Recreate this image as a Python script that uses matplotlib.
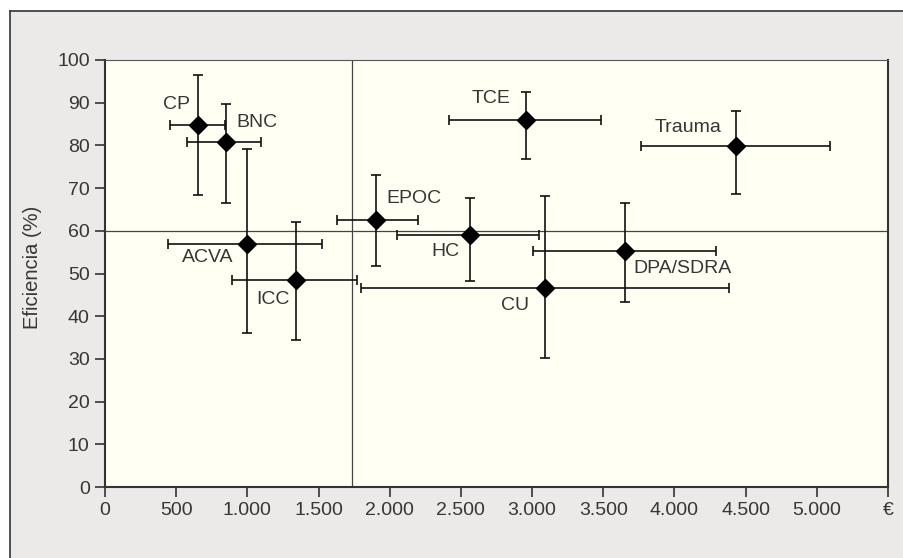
import matplotlib.pyplot as plt
from matplotlib.patches import Rectangle
from matplotlib.lines import Line2D

DPI = 100

# datos: coste (euros) y eficiencia (%) por patologia
grupos = ['CP', 'BNC', 'ACVA', 'EPOC', 'ICC', 'HC', 'TCE', 'Trauma', 'DPA/SDRA', 'CU']
coste = [651, 850, 998, 1906, 1344, 2562, 2960, 4435, 3653, 3091]
coste_min = [459, 574, 443, 1630, 894, 2051, 2419, 3763, 3005, 1801]
coste_max = [845, 1098, 1525, 2197, 1770, 3051, 3487, 5096, 4293, 4384]
efic = [84.8, 80.8, 56.8, 62.5, 48.5, 59.0, 85.9, 79.9, 55.3, 46.7]
efic_min = [68.4, 66.5, 36.1, 51.8, 34.4, 48.2, 76.8, 68.6, 43.3, 30.2]
efic_max = [96.6, 89.8, 79.2, 73.1, 62.1, 67.7, 92.4, 88.1, 66.4, 68.2]

# posicion de las etiquetas (en unidades de datos)
etiq_x = [499, 1066, 719, 2171, 1183, 2393, 2712, 4098, 4059, 2883]
etiq_y = [89.6, 85.4, 53.7, 67.6, 44.0, 55.1, 90.9, 84.2, 51.2, 42.6]

coste_medio = 1738
efic_media = 60

xticks = [0, 500, 1000, 1500, 2000, 2500, 3000, 3500, 4000, 4500, 5000, 5500]
xtick_labels = ['0', '500', '1.000', '1.500', '2.000', '2.500', '3.000',
                '3.500', '4.000', '4.500', '5.000', '€']
yticks = list(range(0, 101, 10))

plt.rcParams['font.family'] = ['Liberation Sans', 'DejaVu Sans']
gris_texto = '#363636'
fondo = '#ebeae8'

fig = plt.figure(figsize=(904 / DPI, 558 / DPI), dpi=DPI, facecolor=fondo)

# marco: franja blanca arriba e izquierda, y bordes
x0 = 10 / 904
y0 = 1 - 11 / 558
fig.add_artist(Rectangle((0, y0), 1, 1 - y0, transform=fig.transFigure,
                         facecolor='white', edgecolor='none', zorder=-10))
fig.add_artist(Rectangle((0, 0), x0, 1, transform=fig.transFigure,
                         facecolor='white', edgecolor='none', zorder=-10))
fig.add_artist(Line2D([x0, 1], [y0, y0], transform=fig.transFigure,
                      color='#333333', lw=1.2))
fig.add_artist(Line2D([x0, x0], [0, y0], transform=fig.transFigure,
                      color='#333333', lw=1.2))

ax = fig.add_axes([105 / 904, 1 - 487 / 558, 783 / 904, 427 / 558])
ax.set_facecolor('#fffff3')

ax.axhline(efic_media, color='#444444', lw=0.9, zorder=1)
ax.axvline(coste_medio, color='#444444', lw=0.9, zorder=1)

xerr = [[c - lo for c, lo in zip(coste, coste_min)],
        [hi - c for c, hi in zip(coste, coste_max)]]
yerr = [[e - lo for e, lo in zip(efic, efic_min)],
        [hi - e for e, hi in zip(efic, efic_max)]]
ax.errorbar(coste, efic, xerr=xerr, yerr=yerr, fmt='D', color='black',
            ms=9, ecolor='#111111', elinewidth=1.2, capsize=3.5, capthick=1.2, zorder=3)

for g, tx, ty in zip(grupos, etiq_x, etiq_y):
    ax.text(tx, ty, g, ha='center', va='center', fontsize=14, color=gris_texto)

ax.set_xlim(0, 5500)
ax.set_ylim(0, 100)
ax.set_xticks(xticks)
ax.set_xticklabels(xtick_labels)
ax.set_yticks(yticks)
ax.tick_params(direction='out', length=7, width=1.2, color='#333333',
               labelsize=14, labelcolor=gris_texto, pad=4)

for lado in ['left', 'bottom', 'right']:
    ax.spines[lado].set_linewidth(1.5)
    ax.spines[lado].set_color('#333333')
ax.spines['top'].set_linewidth(0.8)
ax.spines['top'].set_color('#555555')

ax.set_ylabel('Eficiencia (%)', fontsize=14.5, color=gris_texto)
ax.yaxis.set_label_coords(-0.0805, 0.515)

plt.savefig('out.png', dpi=DPI, facecolor=fig.get_facecolor())
